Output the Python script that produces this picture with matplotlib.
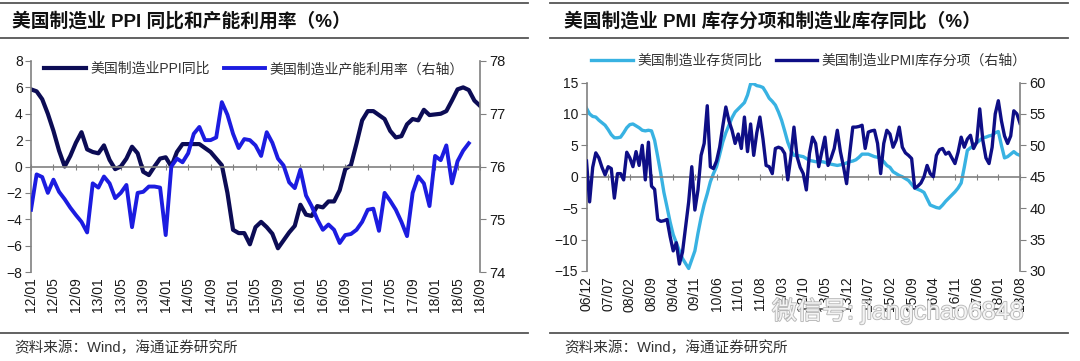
import matplotlib
matplotlib.use("Agg")
import matplotlib.pyplot as plt
import matplotlib.patheffects as pe
from matplotlib.lines import Line2D

plt.rcParams['font.family'] = ['Liberation Sans', 'Noto Sans CJK SC']

# ---- left chart: monthly 2012/01 - 2018/09 ----
ppi_yoy = [5.85, 5.7, 5.1, 4.0, 2.7, 1.2, 0.0, 0.8, 1.8, 2.6,
           1.3, 1.1, 1.0, 1.6, 0.5, -0.2, 0.0, 0.6, 1.5, 1.0,
           -0.4, -0.65, 0.0, 0.6, 0.7, 0.0, 1.1, 1.7, 1.7, 1.7,
           1.7, 1.4, 1.1, 0.6, 0.1, -2.0, -4.8, -5.05, -5.05, -5.9,
           -4.6, -4.2, -4.6, -5.1, -6.2, -5.6, -5.0, -4.5, -2.9, -3.65,
           -3.75, -3.0, -3.1, -2.65, -2.65, -1.8, -0.2, 0.1, 1.75, 3.5,
           4.2, 4.2, 3.9, 3.6, 2.7, 2.2, 2.3, 3.2, 3.6, 3.5,
           4.3, 3.9, 3.95, 4.0, 4.2, 5.0, 5.85, 6.0, 5.8, 5.0,
           4.6]
capacity_util = [75.18, 75.85, 75.8, 75.5, 75.75, 75.52, 75.38, 75.22, 75.08, 74.95,
                 74.75, 75.68, 75.6, 75.81, 75.68, 75.4, 75.5, 75.65, 74.85, 75.5,
                 75.52, 75.62, 75.62, 75.6, 74.7, 76.0, 76.15, 76.08, 76.25, 76.62,
                 76.75, 76.5, 76.5, 76.55, 77.22, 76.98, 76.62, 76.35, 76.52, 76.5,
                 76.4, 76.2, 76.65, 76.45, 76.15, 76.02, 75.7, 75.59, 75.94, 75.45,
                 75.25, 75.0, 74.8, 74.9, 74.8, 74.55, 74.7, 74.72, 74.8, 74.95,
                 75.18, 75.2, 74.78, 75.5, 75.35, 75.18, 74.95, 74.68, 75.5, 75.81,
                 75.68, 75.25, 76.2, 76.12, 76.4, 75.68, 76.1, 76.3, 76.44]
left_xlabels = ['12/01', '12/05', '12/09', '13/01', '13/05', '13/09', '14/01',
                '14/05', '14/09', '15/01', '15/05', '15/09', '16/01', '16/05',
                '16/09', '17/01', '17/05', '17/09', '18/01', '18/05', '18/09']

# ---- right chart: monthly 2006/12 - 2018/08 ----
inventory_yoy = [10.9, 10.0, 9.6, 9.5, 9.0, 8.6, 8.2, 7.5, 6.7, 6.2,
                 6.2, 6.3, 7.0, 7.8, 8.3, 8.4, 8.1, 7.8, 7.4, 7.3,
                 7.4, 7.3, 5.8, 3.2, 0.5, -2.5, -4.8, -7.2, -9.2, -10.5,
                 -11.8, -13.0, -13.8, -14.6, -13.2, -11.8, -9.0, -6.5, -4.4, -2.7,
                 -0.8, 0.5, 1.6, 3.5, 5.5, 7.0, 8.2, 9.4, 10.3, 10.8,
                 11.3, 11.8, 13.0, 14.8, 14.8, 14.5, 14.4, 14.2, 13.4, 12.5,
                 12.0, 11.4, 10.3, 9.0, 7.3, 5.5, 4.2, 3.4, 3.4, 3.3,
                 3.2, 2.9, 2.6, 2.5, 2.4, 2.4, 2.4, 2.3, 2.1, 2.0,
                 1.9, 1.8, 1.9, 2.0, 2.2, 2.4, 2.5, 2.7, 3.1, 3.6,
                 3.6, 3.6, 3.4, 3.2, 3.1, 2.9, 2.4, 1.8, 1.5, 0.8,
                 0.5, 0.2, 0.0, -0.3, -0.6, -1.2, -1.8, -2.0, -2.2, -2.5,
                 -3.5, -4.5, -4.7, -4.9, -5.0, -4.5, -3.9, -3.4, -2.9, -2.4,
                 -1.8, -1.0, 1.5, 4.2, 4.6, 5.0, 5.4, 5.8, 6.2, 6.3,
                 6.5, 6.6, 7.0, 7.2, 5.0, 3.0, 3.2, 3.6, 4.0, 3.6,
                 3.4]
pmi_inventory = [47.5, 41.0, 46.5, 48.8, 48.0, 46.5, 45.3, 46.6, 46.3, 41.6,
                 45.5, 45.5, 44.5, 48.9, 48.0, 46.6, 49.0, 46.8, 50.0, 44.5,
                 50.5, 43.5, 43.0, 38.2, 37.9, 38.0, 38.2, 35.5, 33.2, 34.5,
                 31.1, 33.0, 37.0, 41.0, 46.6, 39.7, 42.9, 48.4, 50.3, 56.3,
                 46.6, 46.3, 47.5, 49.7, 53.0, 56.1, 53.9, 52.4, 50.3, 51.8,
                 49.5, 54.5, 49.0, 53.4, 48.4, 52.0, 54.5, 51.0, 46.8, 46.6,
                 45.5, 49.5, 49.7, 49.5, 48.7, 44.5, 48.2, 52.9, 48.2, 46.5,
                 45.5, 42.9, 48.7, 51.3, 50.3, 46.6, 49.0, 51.3, 46.8, 48.0,
                 49.5, 52.4, 49.0, 46.6, 43.9, 48.7, 52.9, 52.9, 53.0, 53.2,
                 49.5, 52.1, 52.3, 52.4, 50.3, 45.5, 50.3, 52.4, 51.8, 49.7,
                 50.8, 52.9, 49.7, 48.8, 48.4, 47.9, 43.2, 43.5, 44.0, 45.0,
                 46.8, 45.5, 45.0, 48.4, 49.3, 49.5, 48.6, 48.9, 48.0, 47.1,
                 48.9, 51.3, 49.7, 51.0, 51.6, 49.5, 50.5, 55.8, 50.8, 48.0,
                 47.1, 49.7, 55.0, 57.1, 53.9, 51.5, 50.3, 51.5, 55.5, 55.0,
                 53.5]
right_xlabels = ['06/12', '07/07', '08/02', '08/09', '09/04', '09/11', '10/06',
                 '11/01', '11/08', '12/03', '12/10', '13/05', '13/12', '14/07',
                 '15/02', '15/09', '16/04', '16/11', '17/06', '18/01', '18/08']

W, H = 1080, 361
GRAY = '#808080'
TXT = '#1a1a1a'


def px_box(x0, x1, ytop, ybot):
    # pixel box -> figure fraction [left, bottom, width, height]
    return [x0 / W, 1 - ybot / H, (x1 - x0) / W, (ybot - ytop) / H]


def style_axes(ax, ax2, ticks, labels):
    for s in ['top', 'right']:
        ax.spines[s].set_visible(False)
    for s in ['top', 'left', 'bottom']:
        ax2.spines[s].set_visible(False)
    ax.spines['left'].set_color(GRAY)
    ax2.spines['right'].set_color(GRAY)
    ax.spines['bottom'].set_position(('data', 0))
    ax.spines['bottom'].set_color(GRAY)
    ax.spines['bottom'].set_linewidth(1.2)
    ax.spines['left'].set_linewidth(1.2)
    ax2.spines['right'].set_linewidth(1.2)
    ax.tick_params(axis='y', direction='out', length=4, color=GRAY,
                   labelsize=10, labelcolor=TXT, pad=2)
    ax2.tick_params(axis='y', direction='out', length=4, color=GRAY,
                    labelsize=10.5, labelcolor=TXT, pad=3)
    ax.set_xticks(ticks)
    ax.tick_params(axis='x', direction='inout', length=4, color=GRAY,
                   labelbottom=False)
    # date labels sit at the bottom, the axis line itself crosses at zero
    sec = ax.secondary_xaxis('bottom')
    sec.set_xticks(ticks, labels=labels, rotation=90)
    sec.tick_params(length=0, pad=4, labelsize=10, labelcolor=TXT)
    sec.spines['bottom'].set_visible(False)


fig = plt.figure(figsize=(W / 100, H / 100), dpi=100)

# ================= left chart =================
ax1 = fig.add_axes(px_box(31, 480, 61, 272))
ax1b = ax1.twinx()
l1, = ax1.plot(range(len(ppi_yoy)), ppi_yoy, color='#0c0c55', lw=3.0,
               solid_joinstyle='round', label='美国制造业PPI同比')
l2, = ax1b.plot(range(len(capacity_util)), capacity_util, color='#1c1ce0',
                lw=2.8, solid_joinstyle='round', label='美国制造业产能利用率（右轴）')
ax1.set_xlim(0, 80)
ax1.set_ylim(-8, 8)
ax1.set_yticks(range(-8, 9, 2))
ax1b.set_ylim(74, 78)
ax1b.set_yticks(range(74, 79))
style_axes(ax1, ax1b, list(range(0, 81, 4)), left_xlabels)
ax1b.legend(handles=[l1, l2], loc='center left', bbox_to_anchor=(0.03, 0.962),
            ncol=2, frameon=False, fontsize=10, handlelength=3.0,
            handletextpad=0.3, columnspacing=1.0, borderpad=0,
            borderaxespad=0, labelcolor='#333333')

# ================= right chart =================
ax2 = fig.add_axes(px_box(586.5, 1020, 82.5, 271))
ax2b = ax2.twinx()
r1, = ax2.plot(range(len(inventory_yoy)), inventory_yoy, color='#38b2e2', lw=2.4,
               solid_joinstyle='round', label='美国制造业存货同比')
r2, = ax2b.plot(range(len(pmi_inventory)), pmi_inventory, color='#0e0e86',
                lw=2.4, solid_joinstyle='round', label='美国制造业PMI库存分项（右轴）')
ax2.set_xlim(0, 140)
ax2.set_ylim(-15, 15)
ax2.set_yticks(range(-15, 16, 5))
ax2b.set_ylim(30, 60)
ax2b.set_yticks(range(30, 61, 5))
style_axes(ax2, ax2b, list(range(0, 141, 7)), right_xlabels)
ax2b.legend(handles=[r1, r2], loc='center', bbox_to_anchor=(0.513, 1.114),
            ncol=2, frameon=False, fontsize=10, handlelength=3.0,
            handletextpad=0.3, columnspacing=1.0, borderpad=0,
            borderaxespad=0, labelcolor='#333333')

# ================= frame lines and texts =================
def hline(x0, x1, y, lw=1.3):
    fig.add_artist(Line2D([x0 / W, x1 / W], [1 - y / H, 1 - y / H],
                          transform=fig.transFigure, color='#555555', lw=lw))


for x0, x1 in [(0, 528), (550, 1068)]:
    hline(x0, x1, 2.7)
    hline(x0, x1, 37.7)
    hline(x0, x1, 333)

fig.text(12 / W, 1 - 21 / H, '美国制造业 PPI 同比和产能利用率（%）',
         fontsize=13.5, weight='bold', color='#111111', va='center')
fig.text(564 / W, 1 - 21 / H, '美国制造业 PMI 库存分项和制造业库存同比（%）',
         fontsize=13.5, weight='bold', color='#111111', va='center')
fig.text(14 / W, 1 - 348 / H, '资料来源：Wind，海通证券研究所',
         fontsize=10.5, color='#333333', va='center')
fig.text(564 / W, 1 - 348 / H, '资料来源：Wind，海通证券研究所',
         fontsize=10.5, color='#333333', va='center')

# watermark
fig.text(772 / W, 1 - 311 / H, '微信号: jiangchao6848', fontsize=18,
         color='#f4f4f4', va='center',
         path_effects=[pe.withStroke(linewidth=1.3, foreground='#b8b8b8')])

fig.savefig('out.png', dpi=100)
